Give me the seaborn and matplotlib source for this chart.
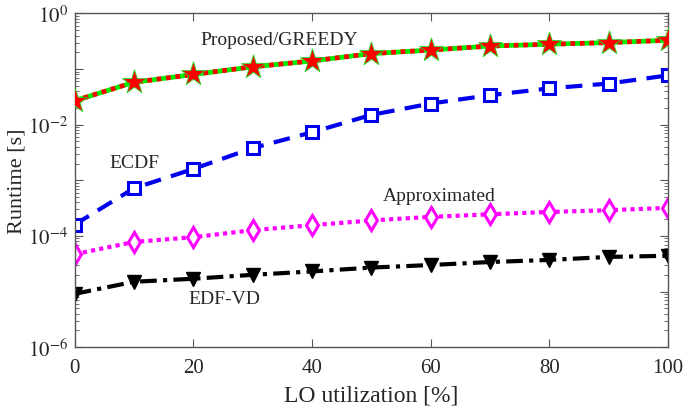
import numpy as np
import pandas as pd
import seaborn as sns
import matplotlib
matplotlib.use('Agg')
import matplotlib.pyplot as plt
from matplotlib.ticker import LogLocator, FixedLocator, NullFormatter

# values (runtime in seconds)
lo_util = [0, 10, 20, 30, 40, 50, 60, 70, 80, 90, 100]
proposed = [0.027, 0.058, 0.080, 0.11, 0.14, 0.19, 0.22, 0.26, 0.28, 0.30, 0.33]
ecdf = [1.6e-4, 7.2e-4, 1.6e-3, 3.8e-3, 7.3e-3, 0.015, 0.024, 0.034, 0.045, 0.055, 0.077]
approx = [4.7e-5, 7.8e-5, 9.5e-5, 1.27e-4, 1.56e-4, 1.9e-4, 2.2e-4, 2.45e-4, 2.7e-4, 2.9e-4, 3.2e-4]
edfvd = [9.1e-6, 1.5e-5, 1.7e-5, 2.0e-5, 2.3e-5, 2.7e-5, 3.0e-5, 3.4e-5, 3.7e-5, 4.2e-5, 4.4e-5]

sns.set_style('ticks')
plt.rcParams['font.family'] = ['Liberation Serif', 'DejaVu Serif']
plt.rcParams['mathtext.fontset'] = 'stix'

fig = plt.figure(figsize=(6.85, 4.14), dpi=100)
ax = fig.add_axes([0.109, 0.159, 0.866, 0.806])

# proposed: green solid under red dotted, red stars
sns.lineplot(x=lo_util, y=proposed, ax=ax, color='#00ee00', lw=3.4, zorder=3)
sns.lineplot(x=lo_util, y=proposed, ax=ax, color='red', lw=3.4, zorder=4)
ax.lines[-1].set_linestyle((0, (1, 1)))
sns.scatterplot(x=lo_util, y=proposed, ax=ax, marker='*', s=330, color='red',
                edgecolor='#22dd22', linewidth=0.6, zorder=5)

sns.lineplot(x=lo_util, y=ecdf, ax=ax, color='#0000ee', lw=3,
             marker='s', markersize=8, markerfacecolor='white',
             markeredgecolor='#0000ee', markeredgewidth=2.2)
ax.lines[-1].set_linestyle((0, (4, 2.5)))

sns.lineplot(x=lo_util, y=approx, ax=ax, color='#ff00ff', lw=3,
             marker='d', markersize=10, markerfacecolor='white',
             markeredgecolor='#ff00ff', markeredgewidth=2.2)
ax.lines[-1].set_linestyle((0, (1, 1)))

sns.lineplot(x=lo_util, y=edfvd, ax=ax, color='black', lw=3,
             marker='v', markersize=10, markerfacecolor='black',
             markeredgecolor='black', markeredgewidth=1)
ax.lines[-1].set_linestyle((0, (4, 1.5, 1, 1.5)))

ax.set_yscale('log')
ax.set_xlim(0, 100)
ax.set_ylim(1e-6, 1)
ax.set_xticks([0, 20, 40, 60, 80, 100])
ax.yaxis.set_major_locator(FixedLocator([1e-6, 1e-5, 1e-4, 1e-3, 1e-2, 1e-1, 1]))
ax.yaxis.set_minor_locator(LogLocator(base=10, subs=np.arange(2, 10), numticks=20))
ax.yaxis.set_minor_formatter(NullFormatter())
ax.set_yticklabels([r'$10^{-6}$', '', r'$10^{-4}$', '', r'$10^{-2}$', '', r'$10^{0}$'])

ax.tick_params(which='both', direction='in', top=True, right=True, labelsize=15, color='#555555')
ax.tick_params(which='major', length=6, width=0.8)
ax.tick_params(which='minor', length=3, width=0.6)
ax.tick_params(axis='x', pad=8)
ax.tick_params(axis='y', pad=5)
for s in ax.spines.values():
    s.set_color('#555555')
    s.set_linewidth(1)

ax.set_xlabel('LO utilization [%]', fontsize=17, labelpad=5)
ax.set_ylabel('Runtime [s]', fontsize=16, labelpad=1)

ax.text(34.4, 0.34, 'Proposed/GREEDY', fontsize=14, ha='center', va='center')
ax.text(10.1, 2.1e-3, 'ECDF', fontsize=14, ha='center', va='center')
ax.text(61.5, 5.4e-4, 'Approximated', fontsize=14, ha='center', va='center')
ax.text(25.3, 7.6e-6, 'EDF-VD', fontsize=14, ha='center', va='center')

fig.savefig('out.png', dpi=100)
